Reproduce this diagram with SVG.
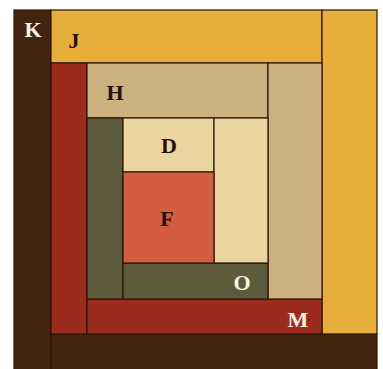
<svg xmlns="http://www.w3.org/2000/svg" width="383" height="369" viewBox="0 0 383 369">
<style>
rect{stroke:#2a1608;stroke-width:1.2}
text{font-family:"Liberation Serif","Times New Roman",serif;font-weight:bold;font-size:22px;text-anchor:middle}
.w{fill:#fbf3ea}.d{fill:#1e1208}
</style>
<rect x="0" y="0" width="383" height="369" fill="#ffffff" style="stroke:none"/>
<g id="K">
<rect x="14" y="10" width="37" height="362" fill="#43240f"/>
<rect x="51" y="334" width="326" height="38" fill="#43240f"/>
<text class="w" x="33" y="37">K</text>
</g>
<g id="J">
<rect x="51" y="10" width="271" height="53" fill="#e8ae3b"/>
<rect x="322" y="10" width="55" height="324" fill="#e8ae3b"/>
<text class="d" x="74" y="48">J</text>
</g>
<g id="M">
<rect x="51" y="63" width="36" height="271" fill="#9a2b1d"/>
<rect x="87" y="299" width="235" height="35" fill="#9a2b1d"/>
<text class="w" x="298" y="327">M</text>
</g>
<g id="H">
<rect x="87" y="63" width="181" height="55" fill="#ccb17f"/>
<rect x="268" y="63" width="54" height="236" fill="#ccb17f"/>
<text class="d" x="115" y="100">H</text>
</g>
<g id="O">
<rect x="87" y="118" width="36" height="181" fill="#5e5b3d"/>
<rect x="123" y="263" width="145" height="36" fill="#5e5b3d"/>
<text class="w" x="242" y="290">O</text>
</g>
<g id="D">
<rect x="123" y="118" width="91" height="54" fill="#e9d59d"/>
<rect x="214" y="118" width="54" height="145" fill="#e9d59d"/>
<text class="d" x="169" y="153">D</text>
</g>
<g id="F">
<rect x="123" y="172" width="91" height="91" fill="#d35d3e"/>
<text class="d" x="167" y="226">F</text>
</g>
<g id="connectors"></g>
</svg>
